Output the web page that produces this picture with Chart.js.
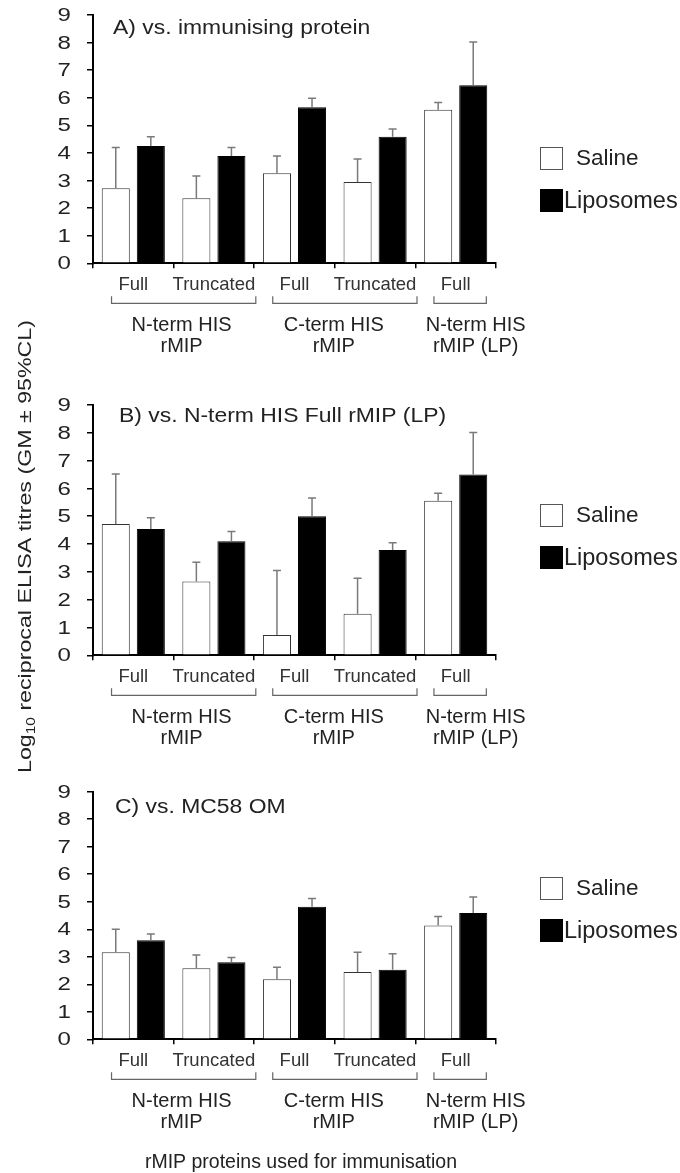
<!DOCTYPE html>
<html>
<head>
<meta charset="utf-8">
<script src="https://cdn.jsdelivr.net/npm/chart.js@4.4.0/dist/chart.umd.min.js"></script>
<style>
    html, body { margin: 0; padding: 0; background: #fff; }
    #wrap { position: relative; width: 680px; height: 1173px; }
    #wrap canvas { position: absolute; left: 0; top: 0; }
</style>
</head>
<body>
<div id="wrap">
    <canvas id="chart-a" width="680" height="1173"></canvas>
    <canvas id="chart-b" width="680" height="1173"></canvas>
    <canvas id="chart-c" width="680" height="1173"></canvas>
</div>
<script>
// categorias do eixo x e grupos de proteínas
const categories = ['Full', 'Truncated', 'Full', 'Truncated', 'Full'];
const groupLabels = [['N-term HIS', 'rMIP'], ['C-term HIS', 'rMIP'], ['N-term HIS', 'rMIP (LP)']];
const groupMembers = [[0, 1], [2, 3], [4]];
const yTicks = [0, 1, 2, 3, 4, 5, 6, 7, 8, 9];
const seriesNames = ['Saline', 'Liposomes'];

// A) vs. immunising protein
const salineA = [2.72, 2.36, 3.26, 2.95, 5.57];
const salineA_upper = [4.20, 3.16, 3.89, 3.78, 5.83];
const liposomesA = [4.25, 3.89, 5.66, 4.59, 6.45];
const liposomesA_upper = [4.59, 4.20, 5.98, 4.87, 8.02];

// B) vs. N-term HIS Full rMIP (LP)
const salineB = [4.72, 2.65, 0.73, 1.49, 5.56];
const salineB_upper = [6.52, 3.35, 3.05, 2.77, 5.83];
const liposomesB = [4.54, 4.10, 5.00, 3.79, 6.50];
const liposomesB_upper = [4.95, 4.45, 5.66, 4.05, 8.01];

// C) vs. MC58 OM
const salineC = [3.16, 2.58, 2.18, 2.45, 4.14];
const salineC_upper = [4.00, 3.06, 2.62, 3.16, 4.46];
const liposomesC = [3.60, 2.80, 4.82, 2.53, 4.59];
const liposomesC_upper = [3.83, 2.97, 5.12, 3.11, 5.17];

const FONT = '"Liberation Sans", Arial, sans-serif';
const TEXT = '#222';

// desenha texto esticado na horizontal (a figura original tem o texto alargado)
function stretchedText(ctx, text, x, y, size, sx, align) {
    ctx.save();
    ctx.font = size + 'px ' + FONT;
    const w = ctx.measureText(text).width * sx;
    let x0 = x;
    if (align === 'right') x0 = x - w;
    if (align === 'center') x0 = x - w / 2;
    ctx.translate(x0, y);
    ctx.scale(sx, 1);
    ctx.textAlign = 'left';
    ctx.fillText(text, 0, 0);
    ctx.restore();
}

// barras de erro (só para cima, com traço no topo)
const errorBars = {
    id: 'errorBars',
    afterDatasetsDraw(chart) {
        const ctx = chart.ctx;
        const y = chart.scales.y;
        ctx.save();
        ctx.strokeStyle = '#7a7a7a';
        ctx.lineWidth = 1.5;
        chart.data.datasets.forEach((ds, d) => {
            chart.getDatasetMeta(d).data.forEach((bar, i) => {
                const top = y.getPixelForValue(ds.upper[i]);
                ctx.beginPath();
                ctx.moveTo(bar.x, bar.y);
                ctx.lineTo(bar.x, top);
                ctx.moveTo(bar.x - 4, top);
                ctx.lineTo(bar.x + 4, top);
                ctx.stroke();
            });
        });
        ctx.restore();
    }
};

// título do painel, números do eixo y, chaves dos grupos e legenda
const decorations = {
    id: 'decorations',
    afterDraw(chart, args, opts) {
        const ctx = chart.ctx;
        const x = chart.scales.x;
        const y = chart.scales.y;
        const area = chart.chartArea;
        const cw = x.getPixelForValue(1) - x.getPixelForValue(0);
        ctx.save();
        ctx.fillStyle = TEXT;
        ctx.textBaseline = 'alphabetic';

        stretchedText(ctx, opts.title, opts.titleX, area.top + opts.titleDy, 19.5, 1.175, 'left');

        ctx.textBaseline = 'middle';
        yTicks.forEach(v => {
            stretchedText(ctx, String(v), 71, y.getPixelForValue(v) + 1, 18.5, 1.3, 'right');
        });

        // chaves
        const base = area.bottom;
        const shift = [8, -1, 20];
        ctx.strokeStyle = '#666';
        ctx.lineWidth = 1.2;
        groupMembers.forEach((m, g) => {
            const first = x.getPixelForValue(m[0]);
            const last = x.getPixelForValue(m[m.length - 1]);
            const left = first - 0.27 * cw;
            const right = last + (m.length > 1 ? 0.52 : 0.38) * cw;
            ctx.beginPath();
            ctx.moveTo(left, base + 33);
            ctx.lineTo(left, base + 40);
            ctx.lineTo(right, base + 40);
            ctx.lineTo(right, base + 33);
            ctx.stroke();

            const cx = (first + last) / 2 + shift[g];
            ctx.textAlign = 'center';
            ctx.textBaseline = 'alphabetic';
            ctx.font = '20px ' + FONT;
            ctx.fillText(groupLabels[g][0], cx, base + 68);
            ctx.fillText(groupLabels[g][1], cx, base + 89);
        });

        // legenda
        const lt = opts.legendTop;
        ctx.fillStyle = '#fff';
        ctx.fillRect(540, lt, 23, 23);
        ctx.strokeStyle = '#555';
        ctx.lineWidth = 1;
        ctx.strokeRect(540.5, lt + 0.5, 22, 22);
        ctx.fillStyle = '#000';
        ctx.fillRect(540, lt + 42, 23, 23);
        ctx.fillStyle = TEXT;
        ctx.textAlign = 'left';
        ctx.textBaseline = 'middle';
        ctx.font = '22.5px ' + FONT;
        ctx.fillText(seriesNames[0], 576, lt + 12);
        ctx.font = '23.5px ' + FONT;
        ctx.fillText(seriesNames[1], 564, lt + 55);

        if (opts.yTitle) {
            ctx.save();
            ctx.translate(31, 773);
            ctx.rotate(-Math.PI / 2);
            ctx.textBaseline = 'alphabetic';
            ctx.font = '18px ' + FONT;
            const parts = [['Log', 18, 0], ['10', 12, 4], [' reciprocal ELISA titres (GM \u00b1 95%CL)', 18, 0]];
            let total = 0;
            parts.forEach(p => { ctx.font = p[1] + 'px ' + FONT; total += ctx.measureText(p[0]).width; });
            ctx.scale(453 / total, 1);
            let px = 0;
            parts.forEach(p => {
                ctx.font = p[1] + 'px ' + FONT;
                ctx.fillText(p[0], px, p[2]);
                px += ctx.measureText(p[0]).width;
            });
            ctx.restore();
        }

        if (opts.xTitle) {
            ctx.font = '19.5px ' + FONT;
            ctx.textAlign = 'center';
            ctx.textBaseline = 'alphabetic';
            ctx.fillText('rMIP proteins used for immunisation', 301, 1168);
        }
        ctx.restore();
    }
};

function createPanel(id, saline, salineUp, lipo, lipoUp, top, bottom, deco) {
    const ctx = document.getElementById(id).getContext('2d');
    return new Chart(ctx, {
        type: 'bar',
        data: {
            labels: categories,
            datasets: [{
                label: seriesNames[0],
                data: saline,
                upper: salineUp,
                backgroundColor: '#fff',
                borderColor: '#333',
                borderWidth: 1
            }, {
                label: seriesNames[1],
                data: lipo,
                upper: lipoUp,
                backgroundColor: '#000',
                borderColor: '#000',
                borderWidth: 1
            }]
        },
        options: {
            responsive: false,
            animation: false,
            events: [],
            categoryPercentage: 0.87,
            barPercentage: 0.8,
            layout: {
                padding: { left: 0, right: 184, top: top, bottom: 1173 - bottom - 30 }
            },
            plugins: {
                legend: { display: false },
                tooltip: { enabled: false },
                decorations: deco
            },
            scales: {
                x: {
                    afterFit: s => { s.height = 30; },
                    border: { color: '#000', width: 2 },
                    grid: { offset: true, drawOnChartArea: false, color: '#000', lineWidth: 1.5, tickLength: 5 },
                    ticks: {
                        color: '#333', font: { size: 18.5, family: FONT }, padding: 6,
                        maxRotation: 0, minRotation: 0, autoSkip: false
                    }
                },
                y: {
                    min: 0,
                    max: 9,
                    afterFit: s => { s.width = 93; },
                    border: { color: '#000', width: 2 },
                    grid: { drawOnChartArea: false, color: '#000', lineWidth: 1.5, tickLength: 6 },
                    ticks: { stepSize: 1, display: false }
                }
            }
        },
        plugins: [errorBars, decorations]
    });
}

createPanel('chart-a', salineA, salineA_upper, liposomesA, liposomesA_upper, 15, 263.3,
    { title: 'A) vs. immunising protein', titleX: 113, titleDy: 18.5, legendTop: 147 });
createPanel('chart-b', salineB, salineB_upper, liposomesB, liposomesB_upper, 405, 655.3,
    { title: 'B) vs. N-term HIS Full rMIP (LP)', titleX: 119, titleDy: 16.7, legendTop: 504, yTitle: true });
createPanel('chart-c', salineC, salineC_upper, liposomesC, liposomesC_upper, 791.7, 1039.3,
    { title: 'C) vs. MC58 OM', titleX: 115, titleDy: 21.5, legendTop: 877, xTitle: true });
</script>
</body>
</html>
